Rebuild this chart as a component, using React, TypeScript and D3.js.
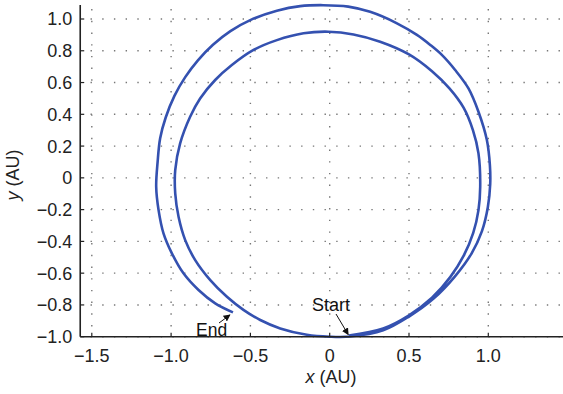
import React from "react";
import * as d3 from "d3";

// Trajectory (AU): first (inner) loop, then outer loop
const pathX = [
  0.12, 0.337, 0.5, 0.645, 0.76, 0.845, 0.905, 0.938, 0.949, 0.938, 0.903, 0.845, 0.755, 0.645,
  0.5, 0.318, 0.15, -0.008, -0.165, -0.333, -0.48, -0.617, -0.722, -0.817, -0.88, -0.943, -0.974,
  -0.974, -0.953, -0.911, -0.848, -0.753, -0.648, -0.544, -0.438, -0.312, -0.144, 0.0,
  0.129, 0.337, 0.5, 0.655, 0.79, 0.895, 0.96, 0.997, 1.012, 1.01, 0.991, 0.938, 0.875, 0.791,
  0.707, 0.634, 0.55, 0.424, 0.255, 0.117, -0.041, -0.186, -0.333, -0.501, -0.626, -0.736, -0.831,
  -0.911, -0.979, -1.034, -1.069, -1.085, -1.094, -1.079, -1.048, -0.995, -0.922, -0.827, -0.722, -0.61,
];
const pathY = [
  -0.993, -0.948, -0.865, -0.755, -0.625, -0.49, -0.347, -0.203, -0.056, 0.154, 0.3, 0.44, 0.563,
  0.671, 0.777, 0.857, 0.903, 0.92, 0.91, 0.867, 0.805, 0.71, 0.616, 0.5, 0.385, 0.217, 0.049, -0.098,
  -0.245, -0.392, -0.518, -0.644, -0.749, -0.831, -0.895, -0.948, -0.988, -1.0,
  -0.999, -0.96, -0.873, -0.76, -0.62, -0.475, -0.335, -0.185, -0.04, 0.08, 0.238, 0.416, 0.563,
  0.679, 0.774, 0.837, 0.9, 0.973, 1.045, 1.078, 1.087, 1.081, 1.052, 0.993, 0.924, 0.838, 0.74,
  0.634, 0.516, 0.38, 0.25, 0.1, -0.056, -0.203, -0.349, -0.475, -0.601, -0.706, -0.79, -0.847,
];

const xTicks = [-1.5, -1.0, -0.5, 0, 0.5, 1.0];
const yTicks = [-1.0, -0.8, -0.6, -0.4, -0.2, 0, 0.2, 0.4, 0.6, 0.8, 1.0];

const startPoint = [0.12, -0.993];
const endPoint = [pathX[pathX.length - 1], pathY[pathY.length - 1]];

const W = 563;
const H = 394;
const FONT = "'Liberation Sans', Arial, Helvetica, sans-serif";

function fmt(v: number) {
  if (v === 0) return "0";
  const s = Math.abs(v).toFixed(1);
  return v < 0 ? "\u2212" + s : s;
}

export default function App() {
  const x = d3.scaleLinear().domain([-1.5, 1.0]).range([91.8, 488.3]);
  const y = d3.scaleLinear().domain([-1.0, 1.0]).range([336.7, 19]);
  const left = x(-1.573);
  const right = W;
  const top = y(1.088);
  const bottom = y(-1.0);

  const pts: [number, number][] = pathX.map((v, i) => [v, pathY[i]]);
  const line = d3
    .line<[number, number]>()
    .x((d) => x(d[0]))
    .y((d) => y(d[1]))
    .curve(d3.curveCatmullRom.alpha(0.5));

  const sx = x(startPoint[0]);
  const sy = y(startPoint[1]);
  const ex = x(endPoint[0]);
  const ey = y(endPoint[1]);

  return (
    <svg
      width={W}
      height={H}
      style={{ position: "absolute", left: 0, top: 0, background: "#fff" }}
      fontFamily={FONT}
    >
      <defs>
        <marker id="ah" viewBox="0 0 10 10" refX="9" refY="5" markerWidth="7" markerHeight="7" orient="auto-start-reverse" markerUnits="userSpaceOnUse">
          <path d="M0,0 L10,5 L0,10 z" fill="#111" />
        </marker>
      </defs>
      {/* grid */}
      {yTicks.map((t) => (
        <line key={"gy" + t} x1={left} x2={right} y1={y(t)} y2={y(t)} stroke="#777" strokeWidth={1.4} strokeDasharray="1.4 10.3" strokeDashoffset={-10.3} />
      ))}
      {xTicks.map((t) => (
        <line key={"gx" + t} x1={x(t)} x2={x(t)} y1={bottom} y2={top} stroke="#777" strokeWidth={1.4} strokeDasharray="1.4 10.3" strokeDashoffset={-10.3} />
      ))}
      {/* curve */}
      <path d={line(pts) || ""} fill="none" stroke="#3451b0" strokeWidth={2.6} strokeLinejoin="round" />
      {/* axes */}
      <line x1={left} x2={left} y1={top} y2={bottom} stroke="#222" strokeWidth={1.6} />
      <line x1={left} x2={right} y1={bottom} y2={bottom} stroke="#222" strokeWidth={1.6} />
      {yTicks.map((t) => (
        <g key={"ty" + t}>
          <line x1={left} x2={left + 4} y1={y(t)} y2={y(t)} stroke="#222" strokeWidth={1.2} />
          <text x={left - 8} y={y(t)} dy="0.36em" textAnchor="end" fontSize={18} fill="#222">
            {fmt(t)}
          </text>
        </g>
      ))}
      {xTicks.map((t) => (
        <g key={"tx" + t}>
          <line x1={x(t)} x2={x(t)} y1={bottom} y2={bottom - 4} stroke="#222" strokeWidth={1.2} />
          <text x={x(t)} y={362} textAnchor="middle" fontSize={18} fill="#222">
            {fmt(t)}
          </text>
        </g>
      ))}
      {/* axis labels */}
      <text x={331} y={383} textAnchor="middle" fontSize={18} fill="#222">
        <tspan fontStyle="italic">x</tspan> (AU)
      </text>
      <text transform="translate(19,175) rotate(-90)" textAnchor="middle" fontSize={18} fill="#222">
        <tspan fontStyle="italic">y</tspan> (AU)
      </text>
      {/* annotations */}
      <text x={312} y={311} fontSize={18} fill="#111">Start</text>
      <line x1={336} y1={314} x2={sx - 0.5} y2={sy - 1} stroke="#111" strokeWidth={1} markerEnd="url(#ah)" />
      <text x={196} y={336} fontSize={17.5} fill="#111">End</text>
      <line x1={219} y1={323} x2={ex - 3} y2={ey + 2.5} stroke="#111" strokeWidth={1} markerEnd="url(#ah)" />
    </svg>
  );
}
